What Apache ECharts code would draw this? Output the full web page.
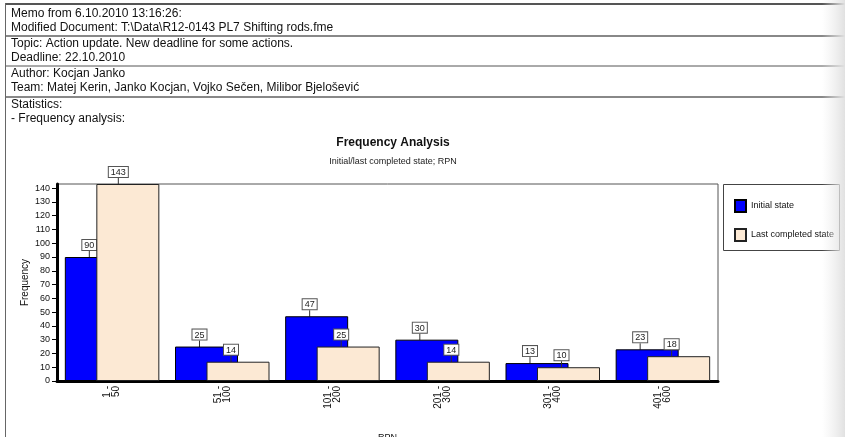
<!DOCTYPE html>
<html>
<head>
<meta charset="utf-8">
<script src="https://cdn.jsdelivr.net/npm/echarts@6/dist/echarts.min.js"></script>
<style>html,body{margin:0;padding:0;background:#fff}#c{width:845px;height:437px}</style>
</head>
<body>
<div id="c"></div>
<script>
const memoLines = [
  'Memo from 6.10.2010 13:16:26:',
  'Modified Document: T:\\Data\\R12-0143 PL7 Shifting rods.fme',
  'Topic: Action update. New deadline for some actions.',
  'Deadline: 22.10.2010',
  'Author: Kocjan Janko',
  'Team: Matej Kerin, Janko Kocjan, Vojko Sečen, Milibor Bjelošević',
  'Statistics:',
  '- Frequency analysis:'
];
const categories = ['1 -\n50', '51 -\n100', '101 -\n200', '201 -\n300', '301 -\n400', '401 -\n600'];
const initialState = [90, 25, 47, 30, 13, 23];
const lastCompleted = [143, 14, 25, 14, 10, 18];
const yTicks = [0, 10, 20, 30, 40, 50, 60, 70, 80, 90, 100, 110, 120, 130, 140];

const narrow = "'Liberation Sans Narrow', 'Liberation Sans', Arial, sans-serif";
const memoY = [15, 29, 45, 59, 75, 89, 106, 120];
const graphic = [];
memoLines.forEach((t, i) => {
  graphic.push({type: 'text', left: 11, top: memoY[i] - 7, silent: true,
    style: {text: t, font: "12px 'Liberation Sans', Arial, sans-serif", fill: '#111'}});
});
[[4, '#555', 2], [36, '#888', 2], [66, '#555', 1], [97, '#888', 2]].forEach(([y, c, w]) => {
  graphic.push({type: 'line', silent: true, shape: {x1: 5, y1: y, x2: 845, y2: y}, style: {stroke: c, lineWidth: w}});
});
graphic.push({type: 'line', silent: true, shape: {x1: 5.5, y1: 3, x2: 5.5, y2: 437}, style: {stroke: '#666', lineWidth: 1}});
graphic.push({type: 'rect', silent: true, shape: {x: 723.5, y: 184.5, width: 116, height: 66}, style: {fill: 'none', stroke: '#444', lineWidth: 1}});
graphic.push({type: 'rect', silent: true, z: 100, shape: {x: 822, y: 0, width: 23, height: 437},
  style: {fill: new echarts.graphic.LinearGradient(0, 0, 1, 0, [{offset: 0, color: 'rgba(235,235,235,0)'}, {offset: 1, color: 'rgba(225,225,225,1)'}])}});

const labelBox = {
  show: true, position: 'top', distance: 7, align: 'right', offset: [-2, 0],
  fontSize: 9, fontFamily: narrow, color: '#222',
  backgroundColor: '#fff', borderColor: '#555', borderWidth: 1, padding: [1, 2, 0, 2]
};
const labelLine = {show: true, lineStyle: {color: '#333', width: 1}};

const chart = echarts.init(document.getElementById('c'));
chart.setOption({
  animation: false,
  backgroundColor: '#fff',
  textStyle: {fontFamily: narrow},
  graphic: graphic,
  title: [
    {text: 'Frequency Analysis', left: 388, top: 132, textAlign: 'center',
      textStyle: {fontSize: 12, fontWeight: 'bold', color: '#111', fontFamily: narrow}},
    {text: 'Initial/last completed state; RPN', left: 388, top: 152, textAlign: 'center',
      textStyle: {fontSize: 9, fontWeight: 'normal', color: '#222', fontFamily: narrow}}
  ],
  legend: {
    orient: 'vertical', left: 729, top: 194, itemWidth: 11, itemHeight: 12, itemGap: 15,
    icon: 'rect', textStyle: {fontSize: 9, color: '#111', fontFamily: narrow},
    data: ['Initial state', 'Last completed state']
  },
  grid: {left: 57, right: 127, top: 184, bottom: 56, show: true, borderColor: '#555', borderWidth: 1,
    outerBoundsMode: 'none', containLabel: false},
  xAxis: {
    type: 'category', data: categories,
    name: 'RPN', nameLocation: 'middle', nameGap: 52,
    nameTextStyle: {fontSize: 9, color: '#111', verticalAlign: 'top'},
    axisLine: {lineStyle: {color: '#000', width: 3}},
    axisTick: {alignWithLabel: true, length: 5, lineStyle: {color: '#000', width: 1}},
    axisLabel: {rotate: 90, fontSize: 10, color: '#111', margin: 5, lineHeight: 9, interval: 0}
  },
  yAxis: {
    type: 'value', min: 0, max: 143, interval: 10,
    name: 'Frequency', nameLocation: 'middle', nameGap: 27, nameRotate: 90, nameMoveOverlap: false,
    nameTextStyle: {fontSize: 10, color: '#111'},
    axisLine: {show: true, lineStyle: {color: '#000', width: 3}},
    axisTick: {show: true, length: 5, lineStyle: {color: '#000', width: 1}, customValues: yTicks},
    axisLabel: {fontSize: 9, color: '#111', margin: 7, customValues: yTicks},
    splitLine: {show: false}
  },
  series: [
    {name: 'Initial state', type: 'bar', data: initialState, barWidth: 63, barGap: '-50%',
      itemStyle: {color: '#0000FF', borderColor: '#000', borderWidth: 1},
      label: labelBox, labelLayout: {dy: 0}, labelLine: labelLine, z: 2},
    {name: 'Last completed state', type: 'bar', data: lastCompleted, barWidth: 63,
      itemStyle: {color: '#FCE9D4', borderColor: '#222', borderWidth: 1},
      label: labelBox, labelLayout: {dy: 0}, labelLine: labelLine, z: 3}
  ]
});
</script>
</body>
</html>
